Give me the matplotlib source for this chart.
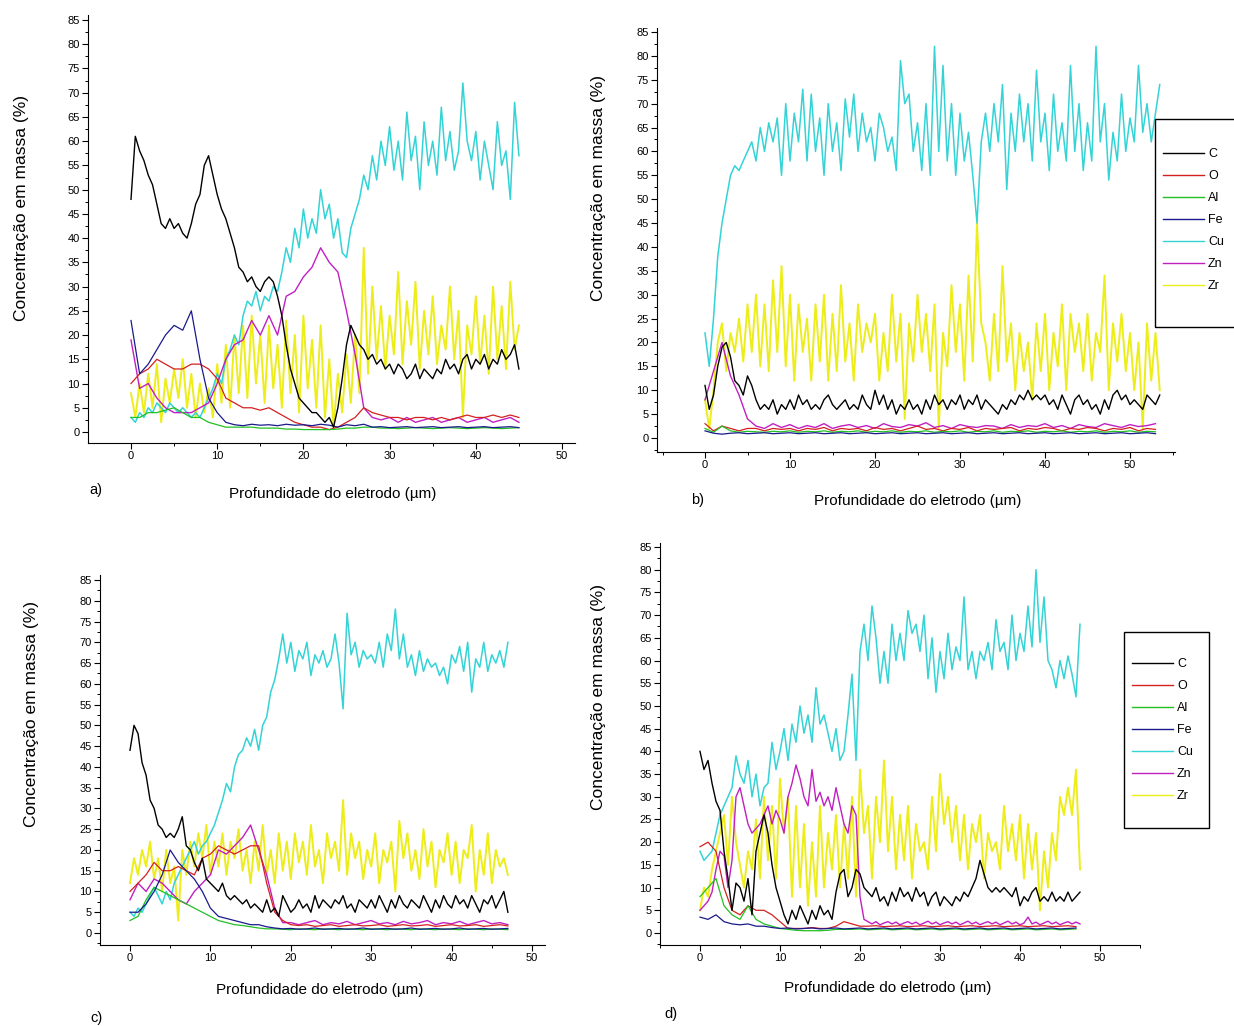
import matplotlib
matplotlib.use('Agg')
import numpy as np
import matplotlib.pyplot as plt
from matplotlib.lines import Line2D
from matplotlib.patches import Rectangle
from matplotlib.ticker import MultipleLocator

plt.rcParams['font.family'] = ['Liberation Sans', 'DejaVu Sans']

W, H = 1234, 1026
FINE = 0.5      # um between samples for the noisy series
COARSE = 1.0    # um between samples for the smoother series

elements = ['C', 'O', 'Al', 'Fe', 'Cu', 'Zn', 'Zr']
draw_order = ['Zr', 'Cu', 'Zn', 'O', 'Al', 'Fe', 'C']
colors = {'C': '#000000', 'O': '#d42020', 'Al': '#22c022', 'Fe': '#1a1a8c',
          'Cu': '#33d3d6', 'Zn': '#c020c0', 'Zr': '#eded1a'}
widths = {'C': 1.0, 'O': 0.9, 'Al': 0.9, 'Fe': 0.9, 'Cu': 1.1, 'Zn': 1.0, 'Zr': 1.4}

# ---------------- panel a) ----------------
c_a = [48, 61, 58, 56, 53, 51, 47, 43, 42, 44,
       42, 43, 41, 40, 43, 47, 49, 55, 57, 53,
       49, 46, 44, 41, 38, 34, 33, 31, 32, 30,
       29, 31, 32, 31, 28, 24, 18, 13, 10, 7,
       6, 5, 4, 4, 3, 2, 3, 1, 5, 11,
       18, 22, 20, 18, 17, 15, 16, 14, 15, 13,
       14, 12, 14, 13, 11, 12, 14, 11, 13, 12,
       11, 13, 12, 15, 13, 14, 12, 15, 16, 13,
       15, 14, 16, 13, 15, 14, 17, 15, 16, 18, 13]
cu_a = [3, 2, 4, 3, 5, 4, 6, 5, 4, 6,
        5, 4, 5, 4, 3, 4, 3, 5, 7, 9,
        12, 10, 15, 17, 20, 18, 24, 27, 26, 29,
        25, 28, 27, 30, 29, 33, 38, 35, 42, 38,
        46, 40, 44, 41, 50, 44, 47, 40, 44, 37,
        36, 42, 45, 48, 53, 50, 57, 52, 60, 55,
        63, 54, 60, 52, 66, 56, 61, 50, 64, 55,
        60, 53, 67, 56, 62, 54, 58, 72, 60, 56,
        62, 52, 60, 55, 50, 64, 55, 58, 48, 68, 57]
zr_a = [8, 3, 10, 4, 12, 5, 14, 2, 11, 6,
        13, 7, 15, 5, 12, 3, 10, 4, 9, 3,
        14, 6, 18, 5, 20, 8, 22, 7, 24, 10,
        20, 6, 22, 9, 18, 5, 23, 8, 20, 4,
        24, 9, 19, 5, 22, 3, 15, 1, 12, 4,
        16, 6, 20, 8, 38, 12, 30, 15, 26, 13,
        24, 16, 33, 14, 27, 18, 31, 13, 25, 16,
        28, 14, 22, 17, 30, 15, 25, 3, 22, 16,
        28, 14, 24, 12, 30, 15, 26, 13, 31, 17, 22]
zn_a = [19, 9, 10, 7, 5, 4, 4, 4, 5, 6,
        10, 15, 18, 19, 23, 20, 24, 20, 28, 29,
        32, 34, 38, 35, 33, 25, 16, 5, 3, 2.5,
        3, 2, 3, 2, 2.5, 3, 2, 2.5, 3, 2,
        2.5, 3, 2, 2.5, 3, 2]
o_a = [10, 12, 13, 15, 14, 13, 13, 14, 14, 13,
       11, 7, 6, 5, 5, 4.5, 5, 4, 3, 2,
       1.5, 1, 1, 0.5, 1, 2, 3, 5, 4, 3.5,
       3, 3, 2.5, 3, 3, 2.5, 3, 2.5, 3, 3.5,
       3, 3, 3.5, 3, 3.5, 3]
fe_a = [23, 12, 14, 17, 20, 22, 21, 25, 15, 7,
        4, 2, 1.5, 1.3, 1.6, 1.4, 1.5, 1.3, 1.6, 1.4,
        1.5, 1.3, 1.6, 1.4, 1, 1.5, 1.3, 1.6, 1, 1.1,
        0.9, 1, 1.1, 0.9, 1, 1.1, 0.9, 1, 1.1, 0.9,
        1, 1.1, 0.9, 1, 1.1, 0.9]
al_a = [3, 3, 4, 4, 4.5, 5, 4, 3, 3, 2,
        1.5, 1, 1, 1, 1, 0.8, 0.8, 0.8, 0.6, 0.6,
        0.5, 0.5, 0.5, 0.5, 0.6, 0.8, 0.8, 1, 1, 0.8,
        0.8, 0.7, 0.8, 0.9, 0.8, 0.7, 0.8, 0.9, 0.8, 0.7,
        0.8, 0.9, 0.8, 0.7, 0.8, 0.9]

# ---------------- panel b) ----------------
c_b = [11, 6, 9, 15, 19, 20, 17, 12, 11, 9,
       13, 11, 8, 6, 7, 6, 8, 5, 7, 6,
       8, 6, 9, 7, 8, 6, 7, 6, 8, 9,
       7, 6, 7, 8, 6, 7, 6, 9, 7, 6,
       10, 7, 9, 6, 8, 5, 7, 6, 8, 6,
       7, 5, 8, 6, 9, 7, 8, 6, 8, 7,
       9, 6, 8, 7, 9, 6, 8, 7, 6, 5,
       7, 6, 8, 7, 9, 8, 10, 8, 9, 8,
       9, 7, 8, 6, 9, 7, 5, 8, 9, 7,
       8, 6, 7, 5, 8, 6, 9, 10, 8, 9,
       7, 8, 7, 6, 9, 8, 7, 9]
cu_b = [22, 15, 25, 38, 45, 50, 55, 57, 56, 58,
        60, 62, 58, 65, 60, 66, 62, 67, 55, 70,
        58, 68, 62, 73, 58, 72, 60, 67, 55, 70,
        60, 66, 56, 71, 63, 72, 60, 68, 62, 65,
        58, 68, 65, 60, 63, 56, 79, 70, 72, 60,
        66, 56, 70, 55, 82, 60, 78, 58, 70, 55,
        68, 58, 64, 55, 45, 62, 68, 60, 70, 62,
        74, 52, 68, 60, 72, 62, 70, 58, 77, 62,
        68, 56, 72, 60, 66, 58, 78, 60, 70, 56,
        66, 58, 82, 62, 70, 54, 64, 58, 72, 60,
        67, 62, 78, 64, 70, 62, 68, 74]
zr_b = [8, 2, 10, 20, 24, 14, 22, 18, 25, 16,
        28, 18, 30, 15, 28, 14, 33, 18, 36, 15,
        30, 12, 28, 18, 25, 12, 28, 16, 30, 12,
        26, 14, 32, 16, 24, 12, 28, 18, 24, 20,
        26, 12, 22, 14, 30, 16, 26, 4, 24, 16,
        30, 18, 26, 14, 28, 2, 22, 15, 32, 18,
        28, 12, 34, 16, 45, 24, 20, 12, 26, 14,
        36, 16, 24, 10, 22, 14, 20, 8, 24, 14,
        26, 10, 22, 15, 28, 10, 26, 18, 24, 14,
        26, 12, 22, 18, 34, 10, 24, 16, 26, 14,
        22, 10, 20, 2, 24, 12, 22, 10]
zn_b = [8, 14, 20, 13, 9, 4, 2.5, 2, 3, 2.2,
        2.8, 2, 2.6, 2.2, 3, 2, 2.5, 2.8, 2.2, 2.6,
        2, 3, 2.4, 2.2, 2.8, 2.5, 3.2, 2.2, 2.6, 2,
        2.8, 2.4, 2.2, 2.6, 2.5, 2, 2.8, 2.2, 2.6, 2.4,
        3, 2.2, 2.6, 2, 2.8, 2.4, 2.2, 3, 2.6, 2.2,
        2.8, 2.4, 2.6, 3]
o_b = [3, 1.5, 2.5, 2, 1.5, 2, 2, 1.5, 2, 1.8,
       2, 1.5, 2, 1.8, 2.2, 1.5, 2, 1.8, 2, 1.5,
       2.2, 1.8, 2, 1.5, 2, 2.5, 1.8, 2, 1.5, 2,
       1.8, 2.2, 1.5, 2, 1.8, 2, 2.2, 1.5, 2, 1.8,
       2.2, 2, 1.5, 2, 1.8, 2.2, 2, 1.5, 2, 1.8,
       2.2, 1.5, 2, 1.8]
al_b = [2, 1.2, 2.5, 1.5, 1.2, 1.4, 1.3, 1.2, 1.4, 1.3,
        1.5, 1.2, 1.4, 1.3, 1.5, 1.2, 1.4, 1.3, 1.5, 1.2,
        1.4, 1.3, 1.5, 1.2, 1.4, 1.3, 1.5, 1.2, 1.4, 1.3,
        1.5, 1.2, 1.4, 1.3, 1.5, 1.2, 1.4, 1.3, 1.5, 1.2,
        1.4, 1.3, 1.5, 1.2, 1.4, 1.3, 1.5, 1.2, 1.4, 1.3,
        1.5, 1.2, 1.4, 1.3]
fe_b = [1.5, 1, 0.8, 1, 1.1, 0.9, 1, 1.1, 0.9, 1,
        1.1, 0.9, 1, 1.1, 0.9, 1, 1.1, 0.9, 1, 1.1,
        0.9, 1, 1.1, 0.9, 1, 1.1, 0.9, 1, 1.1, 0.9,
        1, 1.1, 0.9, 1, 1.1, 0.9, 1, 1.1, 0.9, 1,
        1.1, 0.9, 1, 1.1, 0.9, 1, 1.1, 0.9, 1, 1.1,
        0.9, 1, 1.1, 0.9]

# ---------------- panel c) ----------------
c_c = [44, 50, 48, 41, 38, 32, 30, 26, 25, 23,
       24, 23, 25, 28, 21, 20, 17, 15, 18, 13,
       12, 11, 10, 12, 9, 8, 9, 8, 7, 8,
       6, 7, 6, 5, 8, 5, 6, 4, 9, 7,
       5, 6, 8, 6, 7, 5, 9, 6, 8, 7,
       6, 8, 7, 9, 6, 7, 5, 8, 7, 6,
       8, 6, 9, 7, 5, 8, 6, 9, 7, 6,
       8, 7, 6, 9, 7, 5, 8, 6, 9, 7,
       6, 9, 7, 8, 6, 9, 7, 5, 8, 7,
       9, 6, 8, 10, 5]
cu_c = [5, 4, 6, 5, 7, 9, 11, 9, 7, 10,
        8, 12, 14, 16, 18, 20, 22, 19, 21, 22,
        24, 26, 29, 32, 36, 34, 40, 43, 44, 47,
        45, 49, 44, 50, 52, 58, 61, 66, 72, 65,
        70, 63, 68, 66, 70, 62, 67, 65, 68, 64,
        66, 72, 65, 54, 77, 67, 70, 64, 68, 66,
        67, 65, 70, 64, 72, 68, 78, 66, 72, 64,
        67, 62, 68, 63, 66, 64, 65, 62, 64, 60,
        67, 65, 69, 63, 70, 58, 66, 64, 70, 63,
        67, 65, 68, 64, 70]
zr_c = [12, 18, 14, 20, 16, 22, 13, 18, 10, 20,
        12, 16, 3, 20, 14, 22, 16, 24, 18, 26,
        14, 22, 16, 24, 14, 22, 18, 25, 15, 20,
        12, 22, 15, 26, 14, 20, 12, 24, 15, 22,
        13, 24, 17, 22, 14, 26, 16, 20, 12, 24,
        18, 22, 15, 32, 14, 24, 18, 22, 13, 20,
        16, 24, 12, 20, 17, 22, 10, 27, 18, 24,
        15, 20, 13, 25, 16, 22, 11, 20, 17, 24,
        14, 22, 12, 20, 18, 26, 10, 20, 14, 24,
        12, 20, 16, 18, 14]
zn_c = [8, 12, 10, 13, 12, 10, 8, 7, 10, 12,
        14, 20, 19, 21, 23, 26, 20, 14, 6, 2.5,
        2.5, 2, 2.5, 3, 2, 2.5, 2.2, 2.8, 2, 2.5,
        3, 2.2, 2.5, 2, 2.8, 2.2, 2.5, 3, 2, 2.5,
        2.2, 2.8, 2, 2.5, 3, 2.2, 2.5, 2]
o_c = [10, 12, 14, 17, 15, 15, 16, 15, 14, 18,
       19, 21, 20, 19, 20, 21, 21, 12, 5, 3,
       2, 1.8, 2, 1.6, 1.8, 2, 1.6, 1.8, 2, 1.7,
       1.8, 2, 1.6, 1.8, 2, 1.7, 1.8, 2, 1.6, 1.8,
       2, 1.7, 1.8, 2, 1.6, 1.8, 2, 1.7]
fe_c = [5, 5, 7, 10, 14, 20, 17, 15, 13, 10,
        6, 4, 3.5, 3, 2.5, 2, 2, 1.5, 1.2, 1,
        1.1, 0.9, 1, 1.2, 0.9, 1, 1.1, 0.9, 1, 1.2,
        0.9, 1, 1.1, 0.9, 1, 1.2, 0.9, 1, 1.1, 0.9,
        1, 1.2, 0.9, 1, 1.1, 0.9, 1, 1.1]
al_c = [3, 4, 8, 11, 10, 9, 8, 7, 6, 5,
        4, 3, 2.5, 2, 1.8, 1.5, 1.2, 1, 1, 0.9,
        0.8, 1, 0.9, 0.8, 1, 0.9, 0.8, 1, 0.9, 0.8,
        1, 0.9, 0.8, 1, 0.9, 0.8, 1, 0.9, 0.8, 1,
        0.9, 0.8, 1, 0.9, 0.8, 1, 0.9, 0.8]

# ---------------- panel d) ----------------
c_d = [40, 36, 38, 33, 29, 27, 18, 12, 5, 11,
       10, 7, 12, 4, 18, 22, 26, 22, 15, 10,
       7, 4, 2, 5, 3, 6, 4, 2, 5, 3,
       6, 4, 5, 3, 9, 13, 14, 8, 10, 14,
       13, 10, 9, 8, 10, 7, 8, 6, 9, 7,
       10, 8, 9, 7, 10, 8, 9, 6, 8, 9,
       6, 8, 7, 6, 8, 7, 9, 8, 10, 12,
       16, 13, 10, 9, 10, 9, 10, 9, 8, 10,
       6, 8, 7, 9, 10, 7, 8, 7, 9, 7,
       8, 7, 9, 7, 8, 9]
cu_d = [18, 16, 17, 18, 22, 26, 28, 30, 32, 39,
        35, 33, 38, 30, 35, 28, 32, 33, 42, 36,
        40, 45, 38, 46, 42, 50, 44, 48, 42, 54,
        46, 48, 44, 40, 45, 38, 40, 48, 57, 38,
        62, 68, 60, 72, 65, 55, 62, 55, 68, 60,
        66, 60, 71, 66, 68, 62, 70, 56, 65, 53,
        62, 56, 66, 58, 63, 60, 74, 58, 62, 56,
        62, 60, 64, 58, 69, 62, 64, 58, 70, 60,
        66, 62, 72, 63, 80, 64, 74, 60, 58, 54,
        60, 56, 61, 57, 52, 68]
zr_d = [5, 10, 8, 14, 18, 22, 26, 15, 30, 20,
        15, 10, 18, 14, 25, 12, 30, 16, 28, 12,
        34, 22, 30, 8, 28, 10, 24, 6, 20, 8,
        28, 10, 22, 14, 26, 10, 24, 12, 30, 8,
        36, 22, 28, 12, 30, 20, 38, 18, 30, 14,
        26, 16, 28, 12, 24, 18, 20, 14, 30, 18,
        35, 24, 30, 20, 28, 16, 26, 14, 24, 20,
        26, 12, 22, 18, 20, 14, 28, 18, 24, 16,
        26, 12, 24, 14, 22, 5, 18, 10, 22, 16,
        30, 26, 32, 26, 36, 14]
zn_d = [5, 6, 7, 9, 14, 18, 17, 10, 16, 30,
        32, 28, 24, 22, 23, 24, 26, 28, 24, 27,
        25, 22, 30, 33, 37, 34, 30, 28, 36, 29,
        31, 28, 30, 27, 32, 28, 24, 22, 28, 26,
        8, 3, 2.5, 2, 2.5, 1.8, 2.2, 2.5, 2, 2.4,
        1.8, 2.2, 2.5, 2, 2.4, 1.8, 2.2, 2.6, 2, 2.4,
        1.8, 2.2, 2.5, 2, 2.4, 1.8, 2.2, 2.6, 2, 2.4,
        1.8, 2.2, 2.5, 2, 2.4, 1.8, 2.2, 2.6, 2, 2.4,
        1.8, 2.2, 3.5, 2, 2.4, 1.8, 2.2, 2.6, 2, 2.4,
        1.8, 2.2, 2.5, 2, 2.4, 2]
o_d = [19, 20, 18, 10, 5, 4, 6, 5, 5, 4,
       2.5, 1, 1, 1, 1.2, 1, 1, 1.5, 2.5, 2,
       1.5, 1.5, 1.6, 1.4, 1.5, 1.6, 1.4, 1.5, 1.6, 1.4,
       1.5, 1.6, 1.4, 1.5, 1.6, 1.4, 1.5, 1.6, 1.4, 1.5,
       1.6, 1.4, 1.5, 1.6, 1.4, 1.5, 1.6, 1.4]
al_d = [8, 10, 12, 6, 4, 3, 6, 3, 2, 1.5,
        1, 0.8, 0.6, 0.5, 0.5, 0.5, 0.6, 0.8, 0.8, 0.8,
        0.9, 0.7, 0.8, 0.9, 0.7, 0.8, 0.9, 0.7, 0.8, 0.9,
        0.7, 0.8, 0.9, 0.7, 0.8, 0.9, 0.7, 0.8, 0.9, 0.7,
        0.8, 0.9, 0.7, 0.8, 0.9, 0.7, 0.8, 0.9]
fe_d = [3.5, 3, 4, 2.5, 2, 1.8, 2, 1.5, 1.5, 1.2,
        1, 1.1, 0.9, 1, 1.1, 0.9, 1, 1.1, 0.9, 1,
        1.1, 0.9, 1, 1.1, 0.9, 1, 1.1, 0.9, 1, 1.1,
        0.9, 1, 1.1, 0.9, 1, 1.1, 0.9, 1, 1.1, 0.9,
        1, 1.1, 0.9, 1, 1.1, 0.9, 1, 1.1]

panels = [
    # label, series, axes box px (left, right, top, bottom), calibration px (x0, x50, y0, y85)
    ('a)', {'C': (c_a, FINE), 'O': (o_a, COARSE), 'Al': (al_a, COARSE), 'Fe': (fe_a, COARSE),
            'Cu': (cu_a, FINE), 'Zn': (zn_a, COARSE), 'Zr': (zr_a, FINE)},
     (88, 575, 15, 443), (131, 562, 432, 20)),
    ('b)', {'C': (c_b, FINE), 'O': (o_b, COARSE), 'Al': (al_b, COARSE), 'Fe': (fe_b, COARSE),
            'Cu': (cu_b, FINE), 'Zn': (zn_b, COARSE), 'Zr': (zr_b, FINE)},
     (657, 1175, 28, 452), (705, 1130, 438, 32)),
    ('c)', {'C': (c_c, FINE), 'O': (o_c, COARSE), 'Al': (al_c, COARSE), 'Fe': (fe_c, COARSE),
            'Cu': (cu_c, FINE), 'Zn': (zn_c, COARSE), 'Zr': (zr_c, FINE)},
     (100, 545, 575, 945), (130, 532, 933, 580)),
    ('d)', {'C': (c_d, FINE), 'O': (o_d, COARSE), 'Al': (al_d, COARSE), 'Fe': (fe_d, COARSE),
            'Cu': (cu_d, FINE), 'Zn': (zn_d, FINE), 'Zr': (zr_d, FINE)},
     (660, 1140, 543, 945), (700, 1100, 933, 547)),
]

# text positions in px: ylabel centre, xlabel centre, panel letter
ylabel_pos = [(22, 208), (598, 188), (32, 714), (598, 697)]
xlabel_pos = [(333, 494), (918, 501), (320, 990), (888, 988)]
letter_pos = [(96, 490), (698, 500), (96, 1018), (671, 1014)]


def fx(px):
    return px / W


def fy(py):
    return 1 - py / H


def draw_panel(fig, series, box, cal):
    left, right, top, bottom = box
    x0, x50, y0, y85 = cal
    sx = (x50 - x0) / 50.0
    sy = (y0 - y85) / 85.0
    ax = fig.add_axes([fx(left), fy(bottom), (right - left) / W, (bottom - top) / H])
    for name in draw_order:
        vals, step = series[name]
        depth = np.arange(len(vals)) * step
        ax.plot(depth, vals, color=colors[name], lw=widths[name])
    ax.set_xlim((left - x0) / sx, (right - x0) / sx)
    ax.set_ylim(-(bottom - y0) / sy, (y0 - top) / sy)
    ax.spines['top'].set_visible(False)
    ax.spines['right'].set_visible(False)
    ax.xaxis.set_major_locator(MultipleLocator(10))
    ax.xaxis.set_minor_locator(MultipleLocator(5))
    ax.yaxis.set_major_locator(MultipleLocator(5))
    ax.yaxis.set_minor_locator(MultipleLocator(2.5))
    ax.set_yticks(np.arange(0, 86, 5))
    ax.tick_params(which='major', direction='out', length=4, width=0.8, labelsize=8, pad=2)
    ax.tick_params(which='minor', direction='out', length=2, width=0.7)
    ax.patch.set_alpha(0)
    return ax


fig = plt.figure(figsize=(W / 100, H / 100), dpi=100)

for i, (letter, series, box, cal) in enumerate(panels):
    draw_panel(fig, series, box, cal)
    fig.text(fx(ylabel_pos[i][0]), fy(ylabel_pos[i][1]), 'Concentração em massa (%)',
             rotation=90, ha='center', va='center', fontsize=12.5)
    fig.text(fx(xlabel_pos[i][0]), fy(xlabel_pos[i][1]), 'Profundidade do eletrodo (µm)',
             ha='center', va='center', fontsize=11)
    fig.text(fx(letter_pos[i][0]), fy(letter_pos[i][1]), letter,
             ha='center', va='center', fontsize=10.5)

handles = [Line2D([], [], color=colors[e], lw=1.0) for e in elements]

# legend boxes (b is cut by the right edge as in the source)
for (bl, br, bt, bb), (hx, cy) in [((1155, 1250, 119, 327), (1163, 154)),
                                   ((1124, 1209, 632, 828), (1132, 664))]:
    fig.patches.append(Rectangle((fx(bl), fy(bb)), (br - bl) / W, (bb - bt) / H,
                                 transform=fig.transFigure, fill=False,
                                 edgecolor='black', lw=1.0))
    fig.legend(handles, elements, loc='upper left',
               bbox_to_anchor=(fx(hx), fy(cy - 6)), frameon=False,
               borderpad=0, borderaxespad=0, fontsize=9, handlelength=3.3,
               handletextpad=0.3, labelspacing=0.8)

fig.savefig('out.png', dpi=100)
